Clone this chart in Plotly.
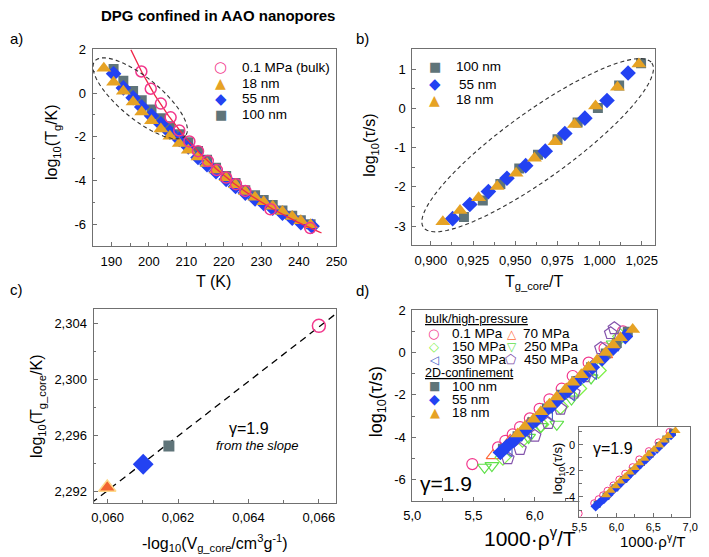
import numpy as np
import plotly.graph_objects as go

W, H = 709, 557
FONT = "Liberation Sans"
SYM = "DejaVu Sans"

# ---------------- data ----------------
# panel a: log10(tau) vs T
a_bulk_T = [198.0, 200.5, 203.2, 205.8, 208.1, 210.8, 213.1, 215.7, 218.1, 220.6, 223.2, 225.7, 232.4, 243.0]
a_bulk_y = [0.99, 0.20, -0.48, -1.11, -1.71, -2.21, -2.66, -3.11, -3.52, -3.87, -4.17, -4.48, -5.32, -6.18]
a_18_T = [188.0, 190.6, 193.2, 195.8, 198.1, 200.7, 203.2, 205.6, 208.1, 210.5, 213.1, 215.5, 217.9, 220.6,
          223.1, 225.7, 228.3, 230.6, 233.0, 235.6, 238.2, 240.5, 243.1]
a_18_y = [1.14, 0.50, 0.09, -0.41, -0.86, -1.26, -1.64, -1.98, -2.31, -2.62, -2.92, -3.22, -3.52, -3.88,
          -4.20, -4.50, -4.77, -4.98, -5.18, -5.42, -5.65, -5.85, -6.03]
a_55_T = [190.6, 193.2, 195.8, 198.1, 200.7, 203.2, 205.6, 208.1, 210.5, 213.1, 215.5, 217.9, 220.6, 223.1,
          225.7, 228.3, 230.6, 233.0, 235.6, 238.2, 240.5, 243.5]
a_55_y = [0.89, 0.24, -0.21, -0.63, -1.04, -1.41, -1.79, -2.12, -2.47, -2.95, -3.28, -3.60, -3.95, -4.28,
          -4.58, -4.85, -5.05, -5.27, -5.50, -5.73, -5.93, -6.10]
a_100_T = [190.6, 193.2, 195.8, 198.1, 200.7, 203.2, 205.6, 208.1, 210.5, 213.1, 215.5, 217.9, 220.6, 223.1,
           225.7, 228.3, 230.6, 233.0, 235.6, 238.2, 240.5, 243.1]
a_100_y = [1.10, 0.57, 0.10, -0.33, -0.75, -1.15, -1.52, -1.88, -2.25, -2.65, -3.05, -3.42, -3.80, -4.12,
           -4.45, -4.68, -4.90, -5.12, -5.38, -5.62, -5.82, -6.00]
# VFT fit of the bulk data: log10(tau) = A + B/(T - T0)
vft_A, vft_B, vft_T0 = -12.88, 583.0, 156.0
vft_Tmin, vft_Tmax = 195.2, 246.0

# panel b: log10(tau) vs Tg_core/T
b_100_x = [0.9196, 0.9308, 0.9412, 0.9524, 0.9635, 0.9751, 0.9870, 0.9990, 1.0116, 1.0246]
b_100_y = [-2.77, -2.35, -1.93, -1.53, -1.18, -0.79, -0.36, 0.01, 0.58, 1.15]
b_55_x = [0.9129, 0.9231, 0.9341, 0.9451, 0.9562, 0.9678, 0.9794, 0.9913, 1.0044, 1.0169]
b_55_y = [-2.81, -2.45, -2.12, -1.78, -1.46, -1.09, -0.64, -0.25, 0.20, 0.90]
b_18_x = [0.9071, 0.9173, 0.9283, 0.9393, 0.9505, 0.9614, 0.9736, 0.9851, 0.9976, 1.0106, 1.0233]
b_18_y = [-2.89, -2.60, -2.28, -1.99, -1.65, -1.27, -0.85, -0.41, 0.06, 0.54, 1.13]

# panel c: log10(Tg_core) vs -log10(Vg_core)
c_x = [0.05999, 0.06101, 0.06174, 0.06600]   # 18 nm, 55 nm, 100 nm, bulk
c_y = [2.29228, 2.29394, 2.29524, 2.30381]

# panel d: log10(tau) vs 1000*rho^gamma/T
d_01_x = [5.49, 5.70, 5.76, 5.82, 5.88, 5.96, 6.04, 6.12, 6.22, 6.31, 6.44, 6.57, 6.72]
d_01_y = [-5.27, -4.48, -4.17, -3.87, -3.52, -3.11, -2.66, -2.21, -1.71, -1.11, -0.48, 0.20, 1.00]
d_70_x = [5.66, 5.80, 5.95, 6.10, 6.26, 6.42, 6.58]
d_70_y = [-4.87, -4.15, -3.35, -2.60, -1.75, -0.95, -0.10]
d_150_x = [5.74, 5.90, 6.05, 6.21, 6.36, 6.52, 6.70]
d_150_y = [-4.95, -4.10, -3.40, -2.55, -1.70, -0.85, 0.75]
d_250_x = [5.59, 5.65, 5.95, 6.05, 6.18, 6.30, 6.46, 6.64]
d_250_y = [-5.42, -5.34, -4.01, -3.50, -3.39, -2.20, -1.20, 0.40]
d_350_x = [5.79, 5.95, 6.12, 6.30, 6.48, 6.66]
d_350_y = [-4.60, -3.75, -2.90, -1.95, -0.95, 0.40]
d_450_x = [5.78, 5.88, 6.00, 6.11, 6.21, 6.32, 6.41, 6.54, 6.62, 6.65]
d_450_y = [-5.00, -4.56, -3.94, -3.34, -2.66, -1.90, -1.13, 0.20, 0.91, 1.14]
d_100_x = [5.74, 5.86, 5.98, 6.10, 6.22, 6.34, 6.46, 6.58, 6.67, 6.76]
d_100_y = [-4.55, -3.95, -3.30, -2.65, -2.00, -1.35, -0.70, -0.05, 0.45, 0.98]
d_55_x = [5.72, 5.77, 5.83, 5.89, 5.94, 6.01, 6.07, 6.14, 6.20, 6.27, 6.33, 6.40, 6.47, 6.55, 6.64, 6.74]
d_55_y = [-4.72, -4.45, -4.15, -3.85, -3.55, -3.20, -2.85, -2.50, -2.15, -1.80, -1.45, -1.10, -0.70, -0.30,
          0.20, 0.75]
d_18_x = [5.86, 5.92, 5.99, 6.05, 6.12, 6.18, 6.25, 6.31, 6.38, 6.44, 6.51, 6.58, 6.64, 6.70, 6.80]
d_18_y = [-3.85, -3.50, -3.15, -2.80, -2.45, -2.10, -1.75, -1.40, -1.05, -0.70, -0.35, 0.00, 0.35, 0.70, 1.09]

# ---------------- styles ----------------
PINK = "#F2378C"
ORANGE = "#E6A224"
BLUE = "#2342F2"
GRAY = "#5F7479"
RED = "#F0284A"
AXC = "#707070"

fig = go.Figure()


def px(x):
    return x / W


def py(y):
    return 1 - y / H


def sc(x, y, ax, symbol, color, size, openm=False, lw=1.5):
    if openm:
        marker = dict(symbol=symbol + "-open", color=color, size=size, line=dict(width=lw, color=color))
    else:
        marker = dict(symbol=symbol, color=color, size=size, line=dict(width=0))
    fig.add_trace(go.Scatter(x=x, y=y, mode="markers", marker=marker, xaxis="x" + ax, yaxis="y" + ax,
                             showlegend=False, hoverinfo="skip"))


# panel a
sc(a_100_T, a_100_y, "", "square", GRAY, 10)
sc(a_55_T, a_55_y, "", "diamond", BLUE, 12)
sc(a_18_T, a_18_y, "", "triangle-up", ORANGE, 13)
Tfit = np.linspace(vft_Tmin, vft_Tmax, 200)
fig.add_trace(go.Scatter(x=Tfit, y=vft_A + vft_B / (Tfit - vft_T0), mode="lines",
                         line=dict(color=RED, width=1.3), showlegend=False, hoverinfo="skip"))
sc(a_bulk_T, a_bulk_y, "", "circle", PINK, 11, openm=True)

# panel b
sc(b_100_x, b_100_y, "2", "square", GRAY, 10)
sc(b_55_x, b_55_y, "2", "diamond", BLUE, 12)
sc(b_18_x, b_18_y, "2", "triangle-up", ORANGE, 13)

# panel c
cfit = np.polyfit(c_x, c_y, 1)
cxl = np.array([0.0590, 0.0670])
fig.add_trace(go.Scatter(x=cxl, y=np.polyval(cfit, cxl), mode="lines", xaxis="x3", yaxis="y3",
                         line=dict(color="black", width=1.3, dash="7px,5px"), showlegend=False,
                         hoverinfo="skip"))
fig.add_trace(go.Scatter(x=c_x[:1], y=c_y[:1], mode="markers", xaxis="x3", yaxis="y3",
                         marker=dict(symbol="triangle-up", size=15, color="#F26430",
                                     line=dict(width=1.5, color="#FFD98A")),
                         showlegend=False, hoverinfo="skip"))
sc(c_x[1:2], c_y[1:2], "3", "diamond", BLUE, 16)
sc(c_x[2:3], c_y[2:3], "3", "square", GRAY, 11)
sc(c_x[3:4], c_y[3:4], "3", "circle", PINK, 13, openm=True)

# panel d
sc(d_01_x, d_01_y, "4", "circle", PINK, 11, openm=True, lw=1.2)
sc(d_70_x, d_70_y, "4", "triangle-up", "#FF6A3A", 12, openm=True, lw=1.2)
sc(d_150_x, d_150_y, "4", "diamond", "#7FF04A", 12, openm=True, lw=1.2)
sc(d_250_x, d_250_y, "4", "triangle-down", "#5FE04A", 12, openm=True, lw=1.2)
sc(d_350_x, d_350_y, "4", "triangle-left", "#4A62C8", 12, openm=True, lw=1.2)
sc(d_450_x, d_450_y, "4", "pentagon", "#8454AC", 13, openm=True, lw=1.2)
sc(d_100_x, d_100_y, "4", "square", GRAY, 10)
sc(d_55_x, d_55_y, "4", "diamond", BLUE, 12)
sc(d_18_x, d_18_y, "4", "triangle-up", ORANGE, 13)

# inset
sc(d_01_x, d_01_y, "5", "circle", PINK, 7, openm=True, lw=1)
sc(d_100_x, d_100_y, "5", "square", GRAY, 7)
sc(d_55_x, d_55_y, "5", "diamond", BLUE, 8)
sc(d_18_x, d_18_y, "5", "triangle-up", ORANGE, 9)


# ---------------- axes ----------------
def axis(dom, rng, tickvals, ticktext, minor_dtick, size=13, anchor=None, standoff=3):
    return dict(domain=dom, range=rng, tickvals=tickvals, ticktext=ticktext, showline=True, mirror=True,
                linecolor=AXC, linewidth=1, ticks="inside", ticklen=4, tickcolor=AXC, showgrid=False,
                zeroline=False, tickfont=dict(family=FONT, size=size, color="black"), anchor=anchor,
                minor=dict(ticks="inside", ticklen=2.5, tickcolor=AXC, dtick=minor_dtick, showgrid=False),
                ticklabelstandoff=standoff, layer="above traces")


def lab(v, fmt):
    return (fmt % v).replace(".", ",")


def ilab(v):
    return str(int(v))


# geometry in pixels: (left, right, top, bottom)
GA = (86, 337, 43, 242)
GB = (415, 665, 43, 241)
GC = (87, 337, 306, 502)
GD = (415, 667, 307, 500)
GI = (587, 701, 425, 516)


def dx(g):
    return [px(g[0]), px(g[1])]


def dy(g):
    return [py(g[3]), py(g[2])]


RA = ([185, 250], [-7, 2])
RB = ([0.889, 1.033], [-3.48, 1.5])
RC = ([0.0596, 0.0665], [2.2912, 2.305])
RD = ([5.0, 7.0], [-7, 2])
RI = ([5.5, 7.0], [-5.5, 1.4])

tv = list(range(190, 251, 10))
fig.update_layout(
    xaxis=axis(dx(GA), RA[0], tv, [ilab(v) for v in tv], 5, anchor="y"),
    yaxis=axis(dy(GA), RA[1], [-6, -4, -2, 0, 2], [ilab(v) for v in [-6, -4, -2, 0, 2]], 1, anchor="x"),
)
tvb = [0.900, 0.925, 0.950, 0.975, 1.000, 1.025]
tvby = [-3, -2, -1, 0, 1]
fig.update_layout(
    xaxis2=axis(dx(GB), RB[0], tvb, [lab(v, "%.3f") for v in tvb], 0.0125, anchor="y2"),
    yaxis2=axis(dy(GB), RB[1], tvby, [ilab(v) for v in tvby], 0.5, anchor="x2"),
)
tvc = [0.060, 0.062, 0.064, 0.066]
tvcy = [2.292, 2.296, 2.300, 2.304]
fig.update_layout(
    xaxis3=axis(dx(GC), RC[0], tvc, [lab(v, "%.3f") for v in tvc], 0.001, anchor="y3"),
    yaxis3=axis(dy(GC), RC[1], tvcy, [lab(v, "%.3f") for v in tvcy], 0.002, anchor="x3"),
)
tvd = [5.0, 5.5, 6.0]
tvdy = [-6, -4, -2, 0, 2]
fig.update_layout(
    xaxis4=axis(dx(GD), RD[0], tvd, [lab(v, "%.1f") for v in tvd], 0.25, anchor="y4"),
    yaxis4=axis(dy(GD), RD[1], tvdy, [ilab(v) for v in tvdy], 1, anchor="x4"),
)
tvi = [5.5, 6.0, 6.5, 7.0]
tviy = [-4, -2, 0]
fig.update_layout(
    xaxis5=axis(dx(GI), RI[0], tvi, [lab(v, "%.1f") for v in tvi], 0.25, size=11, anchor="y5", standoff=0),
    yaxis5=axis(dy(GI), RI[1], tviy, [ilab(v) for v in tviy], 1, size=11, anchor="x5", standoff=1),
)


# ---------------- dashed ellipses ----------------
def ellipse(g, r, cx, cy, a, b, ang, xref, yref):
    t = np.linspace(0, 2 * np.pi, 120)
    th = np.radians(ang)
    X = cx + a * np.cos(t) * np.cos(th) - b * np.sin(t) * np.sin(th)
    Y = cy + a * np.cos(t) * np.sin(th) + b * np.sin(t) * np.cos(th)
    xv = r[0][0] + (X - g[0]) / (g[1] - g[0]) * (r[0][1] - r[0][0])
    yv = r[1][1] - (Y - g[2]) / (g[3] - g[2]) * (r[1][1] - r[1][0])
    path = "M " + " L ".join(f"{x:.6f},{y:.6f}" for x, y in zip(xv, yv)) + " Z"
    fig.add_shape(type="path", path=path, xref=xref, yref=yref,
                  line=dict(color="#333333", width=1.1, dash="4px,3px"), layer="above")


ellipse(GA, RA, 135, 92.5, 60, 21, 38.8, "x", "y")
ellipse(GB, RB, 544, 140, 144, 34, -35.3, "x2", "y2")


# ---------------- text ----------------
def ann(x, y, text, size, xanchor="center", yanchor="middle", color="black", family=FONT, angle=0):
    fig.add_annotation(x=px(x), y=py(y), xref="paper", yref="paper", text=text, showarrow=False,
                       xanchor=xanchor, yanchor=yanchor, textangle=angle,
                       font=dict(family=family, size=size, color=color))


ann(215, 9, "<b>DPG confined in AAO nanopores</b>", 15)
ann(8, 32, "a)", 15)
ann(364, 32, "b)", 15)
ann(8, 286, "c)", 15)
ann(364, 287, "d)", 15)

ann(210, 278, "T (K)", 16)
ann(45, 137, "log<sub>10</sub>(T<sub>g</sub>/K)", 16, angle=-90)
ann(372, 140, "log<sub>10</sub>(τ/s)", 16, angle=-90)
ann(540, 279, "T<sub>g_core</sub>/T", 16)
ann(30, 404, "log<sub>10</sub>(T<sub>g_core</sub>/K)", 16, angle=-90)
ann(212, 543, "-log<sub>10</sub>(V<sub>g_core</sub>/cm<sup>3</sup>g<sup>-1</sup>)", 16)
ann(380, 400, "log<sub>10</sub>(τ/s)", 18, angle=-90)
ann(536, 537, "1000·ρ<sup>γ</sup>/T", 21)
ann(565, 468, "log<sub>10</sub>(τ/s)", 13, angle=-90)
ann(663, 540, "1000·ρ<sup>γ</sup>/T", 15)

ann(247, 427, "γ=1.9", 16)
ann(255, 444, "<i>from the slope</i>", 13)
ann(450, 483, "γ=1.9", 21)
ann(622, 447, "γ=1.9", 16)

# legend a
for yy, g, col, s, t in [(61, "○", PINK, 15, "0.1 MPa (bulk)"), (77, "▲", ORANGE, 14, "18 nm"),
                         (93, "◆", BLUE, 15, "55 nm"), (109, "■", GRAY, 13, "100 nm")]:
    ann(218, yy, g, s, color=col, family=SYM)
    ann(238, yy, t, 13.5, xanchor="left")
# legend b
for yy, g, col, s, t, xt in [(60, "■", GRAY, 13, "100 nm", 458), (78, "◆", BLUE, 15, "55 nm", 461),
                             (94, "▲", ORANGE, 14, "18 nm", 458)]:
    ann(438, yy, g, s, color=col, family=SYM)
    ann(xt, yy, t, 13.5, xanchor="left")
# legend d
ann(426, 316, "<u>bulk/high-pressure</u>", 12.5, xanchor="left")
ann(426, 371, "<u>2D-confinement</u>", 12.5, xanchor="left")
for xs, xt, yy, g, col, s, t in [
    (437, 454, 331, "○", PINK, 13, "0.1 MPa"), (518, 527, 331, "△", "#FF6A3A", 12, "70 MPa"),
    (437, 454, 344, "◇", "#7FF04A", 13, "150 MPa"), (518, 528, 344, "▽", "#5FE04A", 12, "250 MPa"),
    (437, 454, 357, "◁", "#4A62C8", 12, "350 MPa"), (517, 528, 357, "⬠", "#8454AC", 13, "450 MPa"),
    (438, 454, 384, "■", GRAY, 12, "100 nm"), (438, 454, 397, "◆", BLUE, 14, "55 nm"),
    (438, 454, 411, "▲", ORANGE, 13, "18 nm")]:
    ann(xs, yy, g, s, color=col, family=SYM)
    ann(xt, yy, t, 13.5, xanchor="left")

fig.update_layout(width=W, height=H, margin=dict(l=0, r=0, t=0, b=0), paper_bgcolor="white",
                  plot_bgcolor="white", separators=", ", showlegend=False)

fig.write_html("out.html")
